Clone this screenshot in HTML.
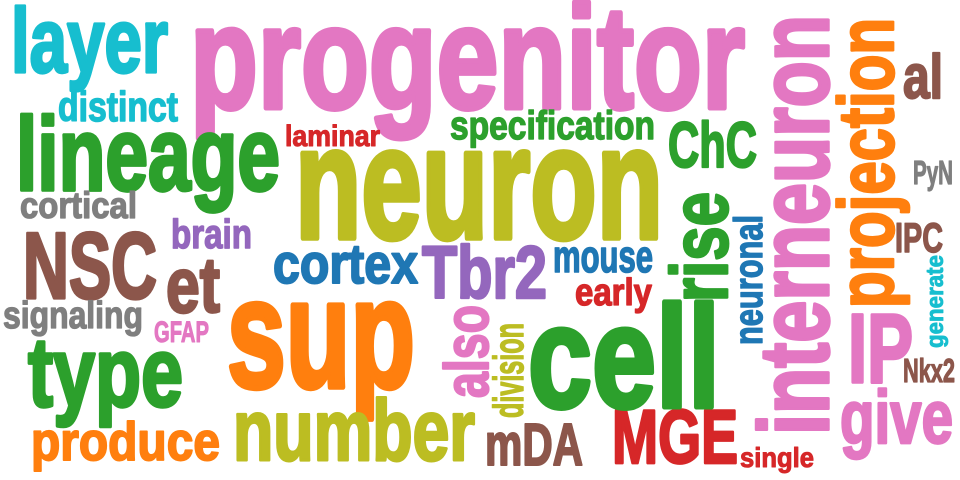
<!DOCTYPE html>
<html><head><meta charset="utf-8"><style>
html,body{margin:0;padding:0;background:#fff;width:960px;height:480px;overflow:hidden}
svg text{font-family:"Liberation Sans Narrow","Liberation Sans",sans-serif;font-weight:bold;stroke-width:0.035em;stroke-linejoin:round}
</style></head><body>
<svg width="960" height="480" viewBox="0 0 960 480" xmlns="http://www.w3.org/2000/svg">
<rect width="960" height="480" fill="#fff"/>
<g id="words">
<text x="11" y="72" font-size="91" fill="#17becf" textLength="157" lengthAdjust="spacingAndGlyphs">layer</text>
<text x="190" y="108" font-size="146" fill="#e377c2" textLength="555" lengthAdjust="spacingAndGlyphs">progenitor</text>
<text x="58" y="121" font-size="42" fill="#17becf" textLength="120" lengthAdjust="spacingAndGlyphs">distinct</text>
<text x="16" y="190" font-size="104" fill="#2ca02c" textLength="264" lengthAdjust="spacingAndGlyphs">lineage</text>
<text x="285" y="146" font-size="30" fill="#d62728" textLength="95" lengthAdjust="spacingAndGlyphs">laminar</text>
<text x="450" y="139" font-size="40" fill="#2ca02c" textLength="205" lengthAdjust="spacingAndGlyphs">specification</text>
<text x="295" y="238" font-size="160" fill="#bcbd22" textLength="368" lengthAdjust="spacingAndGlyphs">neuron</text>
<text x="668" y="167" font-size="64" fill="#2ca02c" textLength="89" lengthAdjust="spacingAndGlyphs">ChC</text>
<text x="20" y="218" font-size="37" fill="#7f7f7f" textLength="117" lengthAdjust="spacingAndGlyphs">cortical</text>
<text x="171" y="248" font-size="41" fill="#9467bd" textLength="81" lengthAdjust="spacingAndGlyphs">brain</text>
<text x="23" y="298" font-size="94" fill="#8c564b" textLength="134" lengthAdjust="spacingAndGlyphs">NSC</text>
<text x="166" y="312" font-size="78" fill="#8c564b" textLength="54" lengthAdjust="spacingAndGlyphs">et</text>
<text x="273" y="283" font-size="56" fill="#1f77b4" textLength="145" lengthAdjust="spacingAndGlyphs">cortex</text>
<text x="422" y="298" font-size="74" fill="#9467bd" textLength="125" lengthAdjust="spacingAndGlyphs">Tbr2</text>
<text x="553" y="272" font-size="45" fill="#1f77b4" textLength="100" lengthAdjust="spacingAndGlyphs">mouse</text>
<text x="575" y="305" font-size="38" fill="#d62728" textLength="77" lengthAdjust="spacingAndGlyphs">early</text>
<text x="3" y="328" font-size="38" fill="#7f7f7f" textLength="140" lengthAdjust="spacingAndGlyphs">signaling</text>
<text x="154" y="342" font-size="30" fill="#e377c2" textLength="55" lengthAdjust="spacingAndGlyphs">GFAP</text>
<text x="227" y="387" font-size="155" fill="#ff7f0e" textLength="188" lengthAdjust="spacingAndGlyphs">sup</text>
<text x="28" y="406" font-size="98" fill="#2ca02c" textLength="155" lengthAdjust="spacingAndGlyphs">type</text>
<text x="31" y="460" font-size="54" fill="#ff7f0e" textLength="189" lengthAdjust="spacingAndGlyphs">produce</text>
<text x="233" y="460" font-size="86" fill="#bcbd22" textLength="242" lengthAdjust="spacingAndGlyphs">number</text>
<text x="485" y="465" font-size="59" fill="#8c564b" textLength="98" lengthAdjust="spacingAndGlyphs">mDA</text>
<text x="612" y="463" font-size="76" fill="#d62728" textLength="126" lengthAdjust="spacingAndGlyphs">MGE</text>
<text x="740" y="467" font-size="28" fill="#d62728" textLength="74" lengthAdjust="spacingAndGlyphs">single</text>
<text x="528" y="407" font-size="145" fill="#2ca02c" textLength="192" lengthAdjust="spacingAndGlyphs">cell</text>
<text transform="translate(488,398) rotate(-90)" x="0" y="0" font-size="62" fill="#e377c2" textLength="93" lengthAdjust="spacingAndGlyphs">also</text>
<text transform="translate(523,418) rotate(-90)" x="0" y="0" font-size="42" fill="#bcbd22" textLength="95" lengthAdjust="spacingAndGlyphs">division</text>
<text transform="translate(727,302) rotate(-90)" x="0" y="0" font-size="80" fill="#2ca02c" textLength="110" lengthAdjust="spacingAndGlyphs">rise</text>
<text transform="translate(762,345) rotate(-90)" x="0" y="0" font-size="40" fill="#1f77b4" textLength="130" lengthAdjust="spacingAndGlyphs">neuronal</text>
<text transform="translate(828,435) rotate(-90)" x="0" y="0" font-size="98" fill="#e377c2" textLength="420" lengthAdjust="spacingAndGlyphs">interneuron</text>
<text transform="translate(893,308) rotate(-90)" x="0" y="0" font-size="78" fill="#ff7f0e" textLength="290" lengthAdjust="spacingAndGlyphs">projection</text>
<text transform="translate(943,348) rotate(-90)" x="0" y="0" font-size="24" fill="#17becf" textLength="93" lengthAdjust="spacingAndGlyphs">generate</text>
<text x="903" y="98" font-size="62" fill="#8c564b" textLength="40" lengthAdjust="spacingAndGlyphs">al</text>
<text x="913" y="184" font-size="33" fill="#7f7f7f" textLength="40" lengthAdjust="spacingAndGlyphs">PyN</text>
<text x="895" y="252" font-size="42" fill="#8c564b" textLength="48" lengthAdjust="spacingAndGlyphs">IPC</text>
<text x="848" y="382" font-size="97" fill="#e377c2" textLength="65" lengthAdjust="spacingAndGlyphs">IP</text>
<text x="903" y="382" font-size="33" fill="#8c564b" textLength="52" lengthAdjust="spacingAndGlyphs">Nkx2</text>
<text x="840" y="443" font-size="75" fill="#e377c2" textLength="113" lengthAdjust="spacingAndGlyphs">give</text>
</g>
</svg>
<script>
document.querySelectorAll('#words text').forEach(function(t){t.setAttribute('stroke', t.getAttribute('fill'));});
</script>
</body></html>
